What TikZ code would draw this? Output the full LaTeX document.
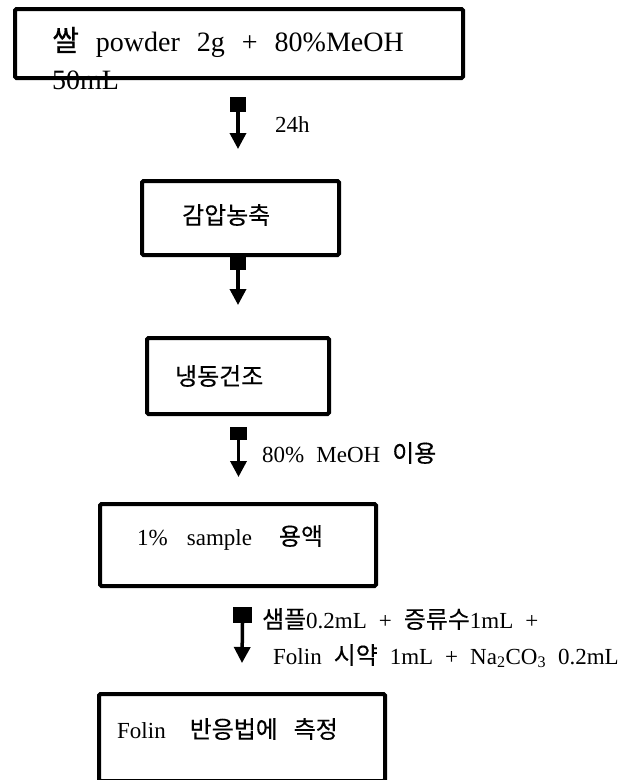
\documentclass[tikz,border=0pt]{standalone}
\usepackage{fontspec}
\usetikzlibrary{arrows.meta}
\setmainfont{Liberation Serif}
\newfontfamily\kr{Noto Sans CJK KR}[Scale=1.04, FakeBold=0.3]
\newcommand\ko[1]{{\kr #1}}
\newcommand\gap{\hspace{17pt}}
\newcommand\sgap{\hspace{12pt}}
\tikzset{
  stepbox/.style={draw, line width=4pt, rounded corners=1.5pt, inner sep=0pt},
  label/.style={anchor=base west, inner sep=0pt, font=\fontsize{23}{27}\selectfont},
  biglabel/.style={anchor=base west, inner sep=0pt, font=\fontsize{28}{32}\selectfont},
  knob/.style={fill=black, inner sep=0pt},
  flow/.style={line width=3.5pt, -{Triangle[width=16pt,length=16pt]}, shorten >=-1pt}
}
\begin{document}
\begin{tikzpicture}[x=1pt,y=-1pt]
\useasboundingbox (0,0) rectangle (625,780);
\clip (0,0) rectangle (625,780);

% process boxes
\node[stepbox, minimum width=448pt, minimum height=69pt] (b1) at (239,43.5) {};
\node[stepbox, minimum width=197pt, minimum height=74pt] (b2) at (240.5,218) {};
\node[stepbox, minimum width=182pt, minimum height=76pt] (b3) at (238,376) {};
\node[stepbox, minimum width=276pt, minimum height=82pt] (b4) at (238,545) {};
\node[stepbox, minimum width=286pt, minimum height=87pt] (b5) at (242,737.5) {};

% box texts
\node[biglabel] (t1a) at (52,51) {\ko{쌀}\gap powder\gap 2g\gap +\gap 80\%MeOH};
\node[biglabel] (t1b) at (52,89) {50mL};
\node[label] (t2) at (182,224) {\ko{감압농축}};
\node[label] (t3) at (175,385) {\ko{냉동건조}};
\node[label] (t4) at (137,545) {1\%\hspace{19pt}sample\hspace{27pt}\ko{용액}};
\node[label] (t5) at (117,738) {Folin\hspace{24pt}\ko{반응법에}\hspace{16pt}\ko{측정}};

% arrows between steps
\node[knob, minimum width=16pt, minimum height=15pt] (k1) at (238,104.5) {};
\coordinate (e1) at (238,148);
\draw[flow] (k1.south) -- (e1);
\node[label] (a1) at (275,132) {24h};

\node[knob, minimum width=16pt, minimum height=13pt] (k2) at (238,263.5) {};
\coordinate (e2) at (238,304);
\draw[flow] (k2.south) -- (e2);

\node[knob, minimum width=17pt, minimum height=13pt] (k3) at (238.5,433.5) {};
\coordinate (e3) at (238.5,476);
\draw[flow] (k3.south) -- (e3);
\node[label] (a3) at (262,462) {80\%\sgap MeOH\sgap \ko{이용}};

\node[knob, minimum width=19pt, minimum height=16pt] (k4) at (242.5,615) {};
\coordinate (e4) at (242,662);
\draw[flow] (k4.south) -- (e4);
\node[label] (a4a) at (262,628) {\ko{샘플}0.2mL\sgap +\sgap \ko{증류수}1mL\sgap +};
\node[label] (a4b) at (273,664) {Folin\sgap \ko{시약}\sgap 1mL\sgap +\sgap Na\textsubscript{2}CO\textsubscript{3}\sgap 0.2mL};
\end{tikzpicture}
\end{document}
